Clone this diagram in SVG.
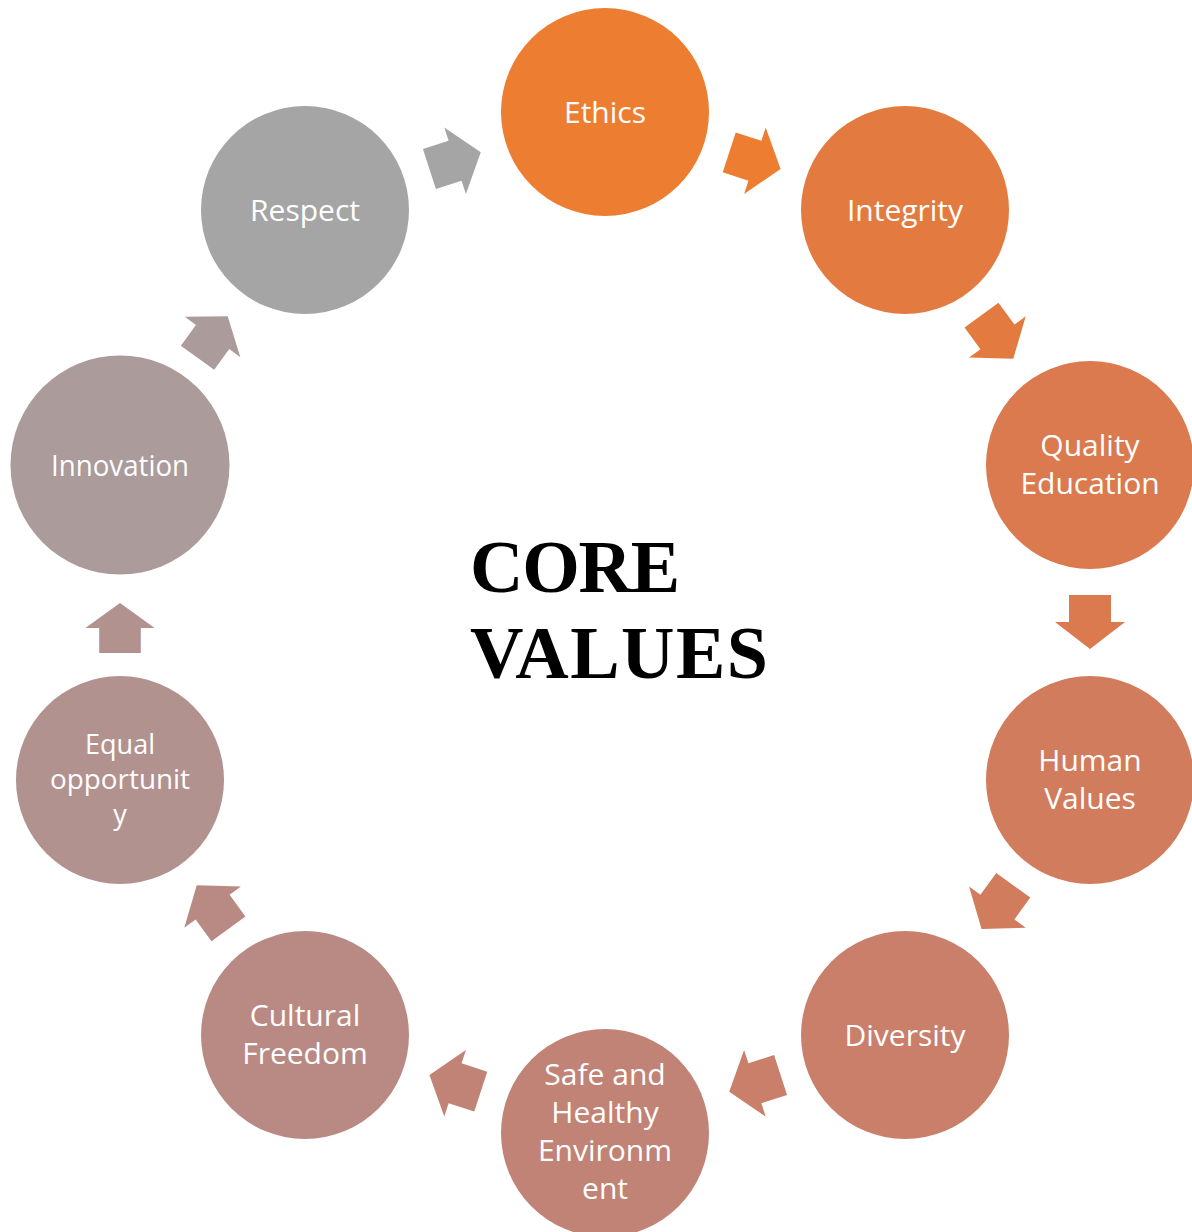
<svg xmlns="http://www.w3.org/2000/svg" width="1192" height="1232" viewBox="0 0 1192 1232">
<style>
.lbl{font-family:"Open Sans","Noto Sans","DejaVu Sans",sans-serif;font-size:30px;fill:#FFFFFF;text-anchor:middle}
.eq{font-size:27px}
.title{font-family:"Liberation Serif","Times New Roman",serif;font-size:74px;font-weight:bold;fill:#000000}
</style>
<defs>
<path id="arr" d="M-27,-21 L0,-21 L0,-35 L27,0 L0,35 L0,21 L-27,21 Z"/>
</defs>
<rect width="1192" height="1232" fill="#FFFFFF"/>
<g id="connectors">
<use href="#arr" fill="#ED7D31" transform="translate(754.9,160.7) rotate(18)"/>
<use href="#arr" fill="#E37B40" transform="translate(997.4,336.9) rotate(54)"/>
<use href="#arr" fill="#DA7A4E" transform="translate(1090,622) rotate(90)"/>
<use href="#arr" fill="#D17C5C" transform="translate(997.4,907.1) rotate(126)"/>
<use href="#arr" fill="#C97F6A" transform="translate(754.9,1083.3) rotate(162)"/>
<use href="#arr" fill="#C18376" transform="translate(455.1,1083.3) rotate(198)"/>
<use href="#arr" fill="#B98A83" transform="translate(212.6,907.1) rotate(234)"/>
<use href="#arr" fill="#B2928F" transform="translate(120,628) rotate(270) scale(0.93,0.99)"/>
<use href="#arr" fill="#AB9B9A" transform="translate(212.6,337) rotate(306) scale(0.95,0.98)"/>
<use href="#arr" fill="#A5A5A5" transform="translate(455.1,160.7) rotate(342)"/>
</g>
<g id="ethics"><circle cx="605" cy="112" r="104" fill="#ED7D31"/><text class="lbl" x="605" y="122.5">Ethics</text></g>
<g id="integrity"><circle cx="905" cy="210" r="104" fill="#E37B40"/><text class="lbl" x="905" y="220.5">Integrity</text></g>
<g id="quality-education"><circle cx="1090" cy="465" r="104" fill="#DA7A4E"/><text class="lbl" x="1090" y="456">Quality</text><text class="lbl" x="1090" y="494">Education</text></g>
<g id="human-values"><circle cx="1090" cy="780" r="104" fill="#D17C5C"/><text class="lbl" x="1090" y="771">Human</text><text class="lbl" x="1090" y="809">Values</text></g>
<g id="diversity"><circle cx="905" cy="1035" r="104" fill="#C97F6A"/><text class="lbl" x="905" y="1045.5">Diversity</text></g>
<g id="safe-healthy"><circle cx="605" cy="1133" r="104" fill="#C18376"/><text class="lbl" x="605" y="1085">Safe and</text><text class="lbl" x="605" y="1123">Healthy</text><text class="lbl" x="605" y="1161">Environm</text><text class="lbl" x="605" y="1199">ent</text></g>
<g id="cultural-freedom"><circle cx="305" cy="1035" r="104" fill="#B98A83"/><text class="lbl" x="305" y="1026">Cultural</text><text class="lbl" x="305" y="1064">Freedom</text></g>
<g id="equal-opportunity"><circle cx="120" cy="780" r="104" fill="#B2928F"/><text class="lbl eq" x="120" y="754">Equal</text><text class="lbl eq" x="120" y="789" textLength="140" lengthAdjust="spacingAndGlyphs">opportunit</text><text class="lbl eq" x="120" y="824">y</text></g>
<g id="innovation"><circle cx="120" cy="465" r="109.5" fill="#AB9B9A"/><text class="lbl" x="120" y="475.5" textLength="138" lengthAdjust="spacingAndGlyphs">Innovation</text></g>
<g id="respect"><circle cx="305" cy="210" r="104" fill="#A5A5A5"/><text class="lbl" x="305" y="220.5">Respect</text></g>
<g id="title"><text class="title" x="470" y="592" textLength="210" lengthAdjust="spacing">CORE</text><text class="title" x="470" y="678" textLength="298" lengthAdjust="spacing">VALUES</text></g>
</svg>
